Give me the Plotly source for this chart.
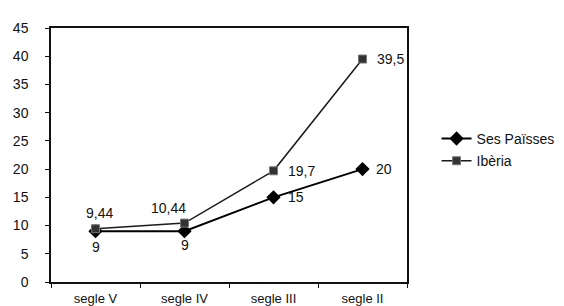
import plotly.graph_objects as go

categories = ["segle V", "segle IV", "segle III", "segle II"]
ses_paisses = [9, 9, 15, 20]
iberia = [9.44, 10.44, 19.7, 39.5]
ses_labels = ["9", "9", "15", "20"]
iberia_labels = ["9,44", "10,44", "19,7", "39,5"]
y_ticks = [0, 5, 10, 15, 20, 25, 30, 35, 40, 45]

# label placement (style only)
ses_pos = [("center", 0, -16), ("center", 0, -14), ("left", 12, 0), ("left", 11, 0)]
ib_pos = [("center", 4, 16), ("center", -16, 15), ("left", 12, 0), ("left", 12, 0)]

FONT = "Liberation Sans, Arial, sans-serif"
font = dict(family=FONT, size=14, color="#111")

fig = go.Figure()
fig.add_trace(go.Scatter(
    x=categories, y=ses_paisses, name="Ses Païsses",
    mode="lines+markers", legendgroup="a",
    line=dict(color="#000", width=2),
    marker=dict(symbol="diamond", size=11, color="#000"),
))
fig.add_trace(go.Scatter(
    x=categories, y=iberia, name="Ibèria",
    mode="lines+markers", legendgroup="b",
    line=dict(color="#1a1a1a", width=1.5),
    marker=dict(symbol="square", size=8, color="#333", line=dict(color="#777", width=1)),
))

annotations = []
for xs, ys, labels, pos in [(categories, ses_paisses, ses_labels, ses_pos),
                            (categories, iberia, iberia_labels, ib_pos)]:
    for x, y, t, (anc, dx, dy) in zip(xs, ys, labels, pos):
        annotations.append(dict(x=x, y=y, text=t, showarrow=False, xanchor=anc,
                                yanchor="middle", xshift=dx, yshift=dy, font=font))

fig.update_layout(
    width=564, height=306,
    margin=dict(l=43, r=142, t=20, b=32),
    paper_bgcolor="white", plot_bgcolor="white",
    font=font,
    showlegend=True,
    annotations=annotations,
    legend=dict(x=1.083, y=0.52, xanchor="left", yanchor="middle",
                font=dict(family=FONT, size=14, color="#111"), bgcolor="rgba(0,0,0,0)",
                tracegroupgap=1, itemwidth=30),
    xaxis=dict(type="category", range=[-0.5, 3.5], showline=True, linecolor="#111",
               linewidth=1.5, mirror=True, ticks="outside", ticklen=4, tickcolor="#111",
               tickson="boundaries", showgrid=False, automargin=False,
               ticklabelstandoff=4, tickfont=dict(family=FONT, size=13, color="#111")),
    yaxis=dict(range=[0, 45], tickvals=y_ticks, showline=True, linecolor="#111",
               linewidth=1.5, mirror=True, ticks="outside", ticklen=4, tickcolor="#111",
               showgrid=False, zeroline=False, automargin=False, ticklabelstandoff=14,
               tickfont=dict(family=FONT, size=14, color="#111")),
)
fig.write_html("out.html")
